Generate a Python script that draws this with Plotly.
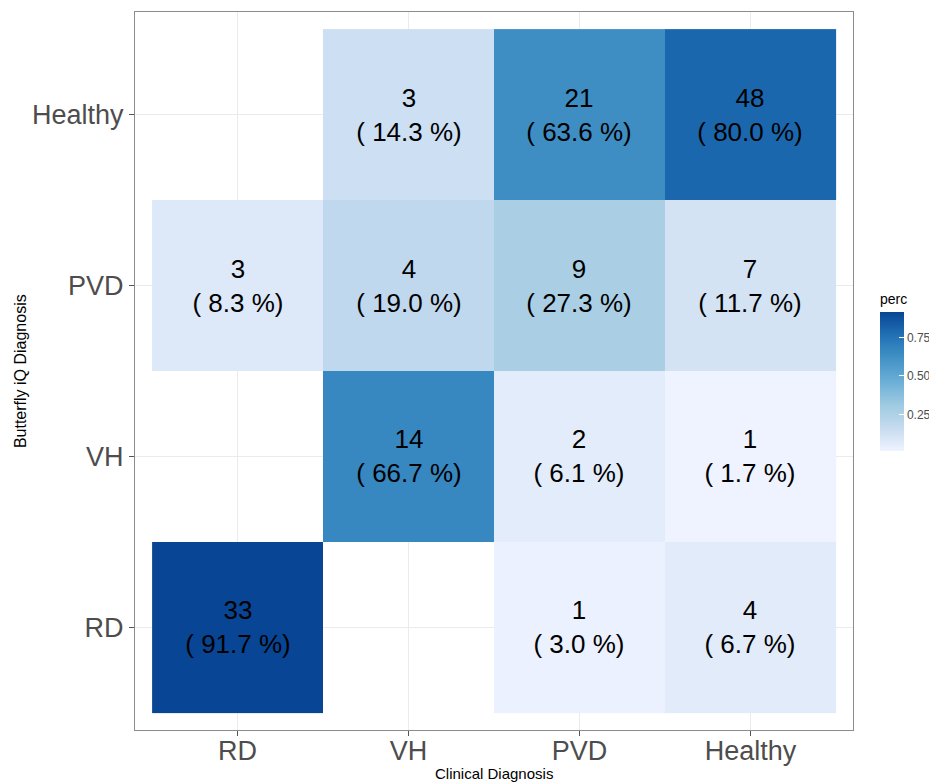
import plotly.graph_objects as go

clinical = ["RD", "VH", "PVD", "Healthy"]          # x categories
butterfly = ["RD", "VH", "PVD", "Healthy"]         # y categories (bottom to top)

# counts[row=butterfly][col=clinical]
counts_rd = [33, None, 1, 4]
counts_vh = [None, 14, 2, 1]
counts_pvd = [3, 4, 9, 7]
counts_healthy = [None, 3, 21, 48]

perc_rd = [0.917, None, 0.030, 0.067]
perc_vh = [None, 0.667, 0.061, 0.017]
perc_pvd = [0.083, 0.190, 0.273, 0.117]
perc_healthy = [None, 0.143, 0.636, 0.800]

counts = [counts_rd, counts_vh, counts_pvd, counts_healthy]
percs = [perc_rd, perc_vh, perc_pvd, perc_healthy]

text = [[("" if c is None else f"{c}<br>( {p*100:.1f} %)") for c, p in zip(cr, pr)]
        for cr, pr in zip(counts, percs)]

blues = ["#EFF3FF", "#C6DBEF", "#9ECAE1", "#6BAED6", "#4292C6", "#2171B5", "#084594"]
colorscale = [[i / (len(blues) - 1), c] for i, c in enumerate(blues)]

vals = [v for row in percs for v in row if v is not None]

fig = go.Figure(go.Heatmap(
    x=clinical, y=butterfly, z=percs,
    text=text, texttemplate="%{text}",
    textfont=dict(size=26, color="black", family="Liberation Sans"),
    colorscale=colorscale, zmin=min(vals), zmax=max(vals),
    hoverongaps=False,
    colorbar=dict(
        title=dict(text="perc", side="top", font=dict(size=14, color="black")),
        x=1.0376, xanchor="left", y=0.612, yanchor="top",
        thickness=24, len=160, lenmode="pixels",
        outlinewidth=0, xpad=0, ypad=0,
        tickvals=[0.25, 0.5, 0.75], ticktext=["0.25", "0.50", "0.75"],
        ticks="inside", ticklen=5, tickcolor="white",
        tickfont=dict(size=12, color="#4D4D4D"),
    ),
))

axis_common = dict(
    type="category", range=[-0.6, 3.6],
    showgrid=True, gridcolor="#EBEBEB", gridwidth=1,
    showline=True, linecolor="#8C8C8C", linewidth=1, mirror=True,
    ticks="outside", ticklen=5, tickcolor="#555555",
    tickfont=dict(size=27, color="#4D4D4D", family="Liberation Sans"),
    zeroline=False, fixedrange=True,
)
fig.update_xaxes(**axis_common, categoryorder="array", categoryarray=clinical,
                 ticklabelstandoff=-8)
fig.update_yaxes(**axis_common, categoryorder="array", categoryarray=butterfly)

# plot area is 718 x 718 px
fig.add_annotation(text="Clinical Diagnosis", xref="paper", yref="paper",
                   x=0.5, y=-0.060, yanchor="middle", showarrow=False,
                   font=dict(size=15, color="black"))
fig.add_annotation(text="Butterfly iQ Diagnosis", xref="paper", yref="paper",
                   x=-0.160, y=0.5, xanchor="center", textangle=-90, showarrow=False,
                   font=dict(size=16, color="black"))

fig.update_layout(
    width=937, height=783,
    margin=dict(l=127, r=92, t=4, b=61, autoexpand=False),
    paper_bgcolor="white", plot_bgcolor="white",
    font=dict(family="Liberation Sans"),
)

fig.write_html("out.html")
